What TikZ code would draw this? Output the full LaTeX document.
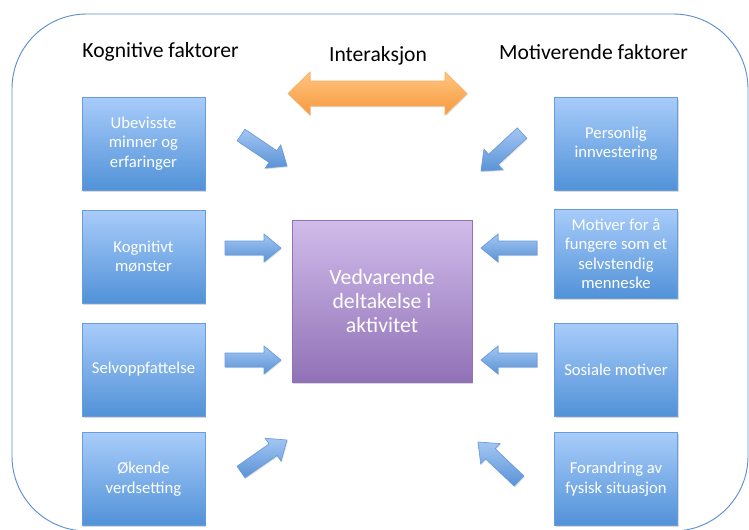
\documentclass[tikz,border=0pt]{standalone}
\usepackage{fontspec}
\setmainfont{Carlito}
\usetikzlibrary{calc,shadows}
\definecolor{btop}{HTML}{A8CCFA}
\definecolor{bbot}{HTML}{5192D8}
\definecolor{bline}{HTML}{6A9BDC}
\definecolor{atop}{HTML}{A3C6F3}
\definecolor{abot}{HTML}{5A93D6}
\definecolor{ptop}{HTML}{D0BCEB}
\definecolor{pbot}{HTML}{9171B6}
\definecolor{pline}{HTML}{9273B8}
\definecolor{otop}{HTML}{FFC581}
\definecolor{obot}{HTML}{F7993C}
\definecolor{oline}{HTML}{F5AE63}
\definecolor{frameblue}{HTML}{5E90CF}
\newcommand{\blockarr}[2]{%
  \path[blockarrow]
    ($(#1)!5.25pt!90:(#2)$) --
    ($($(#2)!12.75pt!(#1)$)!5.25pt!90:(#2)$) --
    ($($(#2)!12.75pt!(#1)$)!10.5pt!90:(#2)$) --
    (#2) --
    ($($(#2)!12.75pt!(#1)$)!10.5pt!-90:(#2)$) --
    ($($(#2)!12.75pt!(#1)$)!5.25pt!-90:(#2)$) --
    ($(#1)!5.25pt!-90:(#2)$) -- cycle;}
\begin{document}
\begin{tikzpicture}[x=0.75pt,y=-0.75pt,
  bbox/.style={draw=bline, line width=0.6pt, top color=btop, bottom color=bbot,
    minimum width=92.25pt, minimum height=69.75pt, text=white,
    font=\fontsize{12.5}{14.6}\selectfont, align=center, inner sep=1pt,
    drop shadow={shadow xshift=0.8pt, shadow yshift=-1.2pt, opacity=0.3}},
  pbox/.style={draw=pline, line width=0.6pt, top color=ptop, bottom color=pbot,
    minimum width=135pt, minimum height=122pt, text=white,
    font=\fontsize{16.3}{18}\selectfont, align=center, inner sep=1pt,
    drop shadow={shadow xshift=0.8pt, shadow yshift=-1.2pt, opacity=0.3}},
  title/.style={font=\fontsize{16.2}{19}\selectfont, text=black, inner sep=0pt},
  blockarrow/.style={draw=bline, line width=0.5pt, top color=atop, bottom color=abot,
    drop shadow={shadow xshift=0.6pt, shadow yshift=-0.9pt, opacity=0.25}},
  dblarrow/.style={draw=oline, line width=0.5pt, top color=otop, bottom color=obot,
    drop shadow={shadow xshift=0.6pt, shadow yshift=-0.9pt, opacity=0.25}},
  frame/.style={draw=frameblue, line width=0.7pt, rounded corners=56pt}
]
\useasboundingbox (0,0) rectangle (749,529);
\draw[frame] (12,14) rectangle (748,531);

% titles
\node[title] (tk) at (160.5,52) {Kognitive faktorer};
\node[title] (ti) at (378,56) {Interaksjon};
\node[title] (tm) at (593.5,52) {Motiverende faktorer};

% interaction double arrow
\coordinate (oL) at (288,93.5);
\coordinate (oR) at (467,93.5);
\path[dblarrow] (oL) -- ($(oL)+(22,-21.5)$) -- ($(oL)+(22,-12.5)$) --
  ($(oR)+(-22,-12.5)$) -- ($(oR)+(-22,-21.5)$) -- (oR) --
  ($(oR)+(-22,21.5)$) -- ($(oR)+(-22,12.5)$) --
  ($(oL)+(22,12.5)$) -- ($(oL)+(22,21.5)$) -- cycle;

% left boxes
\node[bbox] (l1) at (143.5,143.5) {Ubevisste\\minner og\\erfaringer};
\node[bbox] (l2) at (143.5,256.5) {Kognitivt\\mønster};
\node[bbox] (l3) at (143.5,369.5) {Selvoppfattelse};
\node[bbox] (l4) at (143.5,479) {Økende\\verdsetting};

% right boxes
\node[bbox] (r1) at (616,143.5) {Personlig\\innvestering};
\node[bbox, minimum height=66.75pt] (r2) at (616,253.5) {Motiver for å\\fungere som et\\selvstendig\\menneske};
\node[bbox] (r3) at (616,369.5) {Sosiale motiver};
\node[bbox] (r4) at (616,479) {Forandring av\\fysisk situasjon};

% center
\node[pbox] (c) at (382,301.5) {Vedvarende\\deltakelse i\\aktivitet};

% arrow end points
\coordinate (a1t) at (241,135);  \coordinate (a1h) at (287,166);
\coordinate (a2t) at (225,248);  \coordinate (a2h) at (281,248);
\coordinate (a3t) at (225,360);  \coordinate (a3h) at (281,360);
\coordinate (a4t) at (241,472);  \coordinate (a4h) at (287,440);
\coordinate (b1t) at (522,133);  \coordinate (b1h) at (481,171);
\coordinate (b2t) at (537,248);  \coordinate (b2h) at (481,248);
\coordinate (b3t) at (537,360);  \coordinate (b3h) at (481,360);
\coordinate (b4t) at (519,481);  \coordinate (b4h) at (478,442);

\blockarr{a1t}{a1h}
\blockarr{a2t}{a2h}
\blockarr{a3t}{a3h}
\blockarr{a4t}{a4h}
\blockarr{b1t}{b1h}
\blockarr{b2t}{b2h}
\blockarr{b3t}{b3h}
\blockarr{b4t}{b4h}
\end{tikzpicture}
\end{document}
